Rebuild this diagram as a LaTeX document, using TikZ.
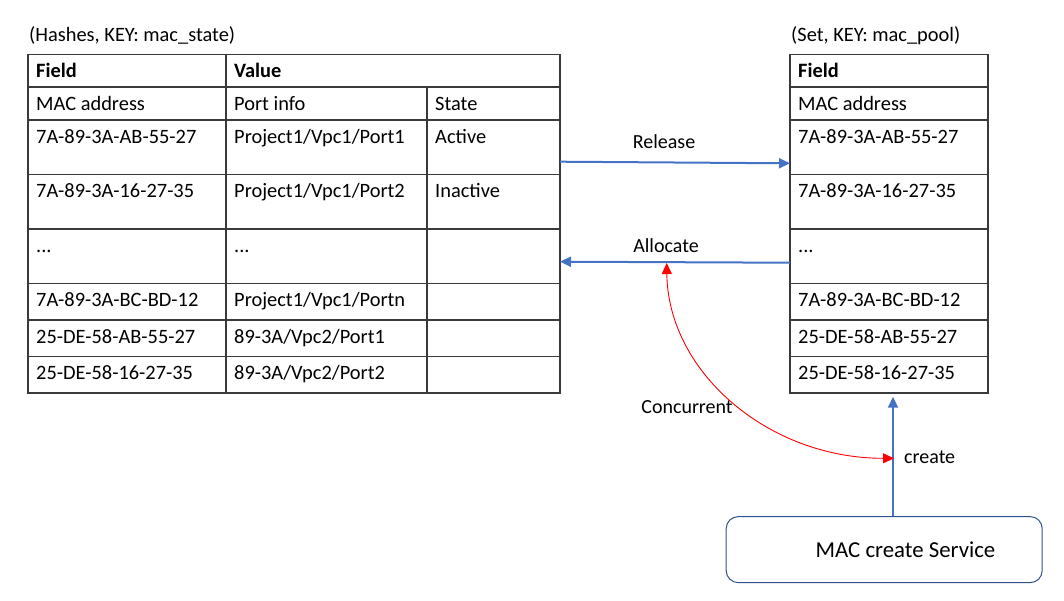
\documentclass[tikz,border=0pt]{standalone}
\usepackage{fontspec}
\setmainfont{Carlito}
\usetikzlibrary{arrows.meta}
\definecolor{cblue}{HTML}{4472C4}
\definecolor{cgrid}{HTML}{3A3A3A}
\definecolor{cbox}{HTML}{2F528F}
\definecolor{cred}{HTML}{FF0000}
\begin{document}
\begin{tikzpicture}[x=1pt,y=-1pt,
  font=\fontsize{20}{24}\selectfont,
  cell/.style={anchor=base west, inner sep=0pt, font=\fontsize{20.4}{24}\selectfont},
  hdr/.style={cell, font=\fontsize{20.4}{24}\selectfont\bfseries},
  gridline/.style={draw=cgrid, line width=1.2pt},
  barrow/.style={draw=cblue, line width=2pt, -{Triangle[length=11pt,width=10pt]}},
  rarrow/.style={draw=cred, line width=0.9pt, {Triangle[length=11pt,width=10pt]}-{Triangle[length=11pt,width=10pt]}},
  lbl/.style={inner sep=0pt}]
\useasboundingbox (0,0) rectangle (1064,600);

% ---------- titles
\node[cell] (ltitle) at (29,41.7) {(Hashes, KEY: mac\_state)};
\node[cell] (rtitle) at (791,41.7) {(Set, KEY: mac\_pool)};

% ---------- left table grid
\draw[gridline] (28,54.5) rectangle (560,393);
\foreach \y in {87,120,174.5,229,283.5,320,356.5}
  \draw[gridline] (28,\y) -- (560,\y);
\draw[gridline] (226,54.5) -- (226,393);
\draw[gridline] (427,87) -- (427,393);

% ---------- left table text
\node[hdr] (lf) at (36,77.8) {Field};
\node[hdr] (lv) at (234,77.8) {Value};
\node[cell] (l1a) at (36,110.3) {MAC address};
\node[cell] (l1b) at (234,110.3) {Port info};
\node[cell] (l1c) at (435,110.3) {State};
\node[cell] (l2a) at (36,143.3) {7A-89-3A-AB-55-27};
\node[cell] (l2b) at (234,143.3) {Project1/Vpc1/Port1};
\node[cell] (l2c) at (435,143.3) {Active};
\node[cell] (l3a) at (36,197.8) {7A-89-3A-16-27-35};
\node[cell] (l3b) at (234,197.8) {Project1/Vpc1/Port2};
\node[cell] (l3c) at (435,197.8) {Inactive};
\node[cell] (l4a) at (36,252.3) {...};
\node[cell] (l4b) at (234,252.3) {...};
\node[cell] (l5a) at (36,306.8) {7A-89-3A-BC-BD-12};
\node[cell] (l5b) at (234,306.8) {Project1/Vpc1/Portn};
\node[cell] (l6a) at (36,343.3) {25-DE-58-AB-55-27};
\node[cell] (l6b) at (234,343.3) {89-3A/Vpc2/Port1};
\node[cell] (l7a) at (36,379.8) {25-DE-58-16-27-35};
\node[cell] (l7b) at (234,379.8) {89-3A/Vpc2/Port2};

% ---------- right table grid
\draw[gridline] (790,54.5) rectangle (988,393);
\foreach \y in {87,120,174.5,229,283.5,320,356.5}
  \draw[gridline] (790,\y) -- (988,\y);

% ---------- right table text
\node[hdr] (rf) at (798,77.8) {Field};
\node[cell] (r1) at (798,110.3) {MAC address};
\node[cell] (r2) at (798,143.3) {7A-89-3A-AB-55-27};
\node[cell] (r3) at (798,197.8) {7A-89-3A-16-27-35};
\node[cell] (r4) at (798,252.3) {...};
\node[cell] (r5) at (798,306.8) {7A-89-3A-BC-BD-12};
\node[cell] (r6) at (798,343.3) {25-DE-58-AB-55-27};
\node[cell] (r7) at (798,379.8) {25-DE-58-16-27-35};

% ---------- release / allocate
\coordinate (relA) at (560,161.7);
\coordinate (relB) at (790,163.3);
\draw[barrow] (relA) -- (relB);
\node[lbl] (release) at (664,141.7) {Release};

\coordinate (allA) at (790,262.7);
\coordinate (allB) at (560,261.7);
\draw[barrow] (allA) -- (allB);
\node[lbl] (allocate) at (666,246) {Allocate};

% ---------- service box
\node[draw=cbox, line width=1pt, rounded corners=12pt,
      minimum width=316pt, minimum height=66pt, inner sep=0pt] (svc) at (884.2,549.6) {};
\node[anchor=west, inner sep=0pt, font=\fontsize{22.8}{27}\selectfont] (svctext) at (815.5,550) {MAC create Service};

% ---------- create arrow
\coordinate (crTop) at (893,396.7);
\draw[barrow] (crTop |- svc.north) -- (crTop);
\node[lbl, anchor=west] (create) at (904,457.5) {create};

% ---------- concurrent
\coordinate (cTop) at (666.7,263);
\coordinate (cBot) at (894,458.3);
\draw[rarrow] (cTop) .. controls (668,372) and (768,458.3) .. (cBot);
\node[lbl] (concurrent) at (687,407) {Concurrent};
\end{tikzpicture}
\end{document}
